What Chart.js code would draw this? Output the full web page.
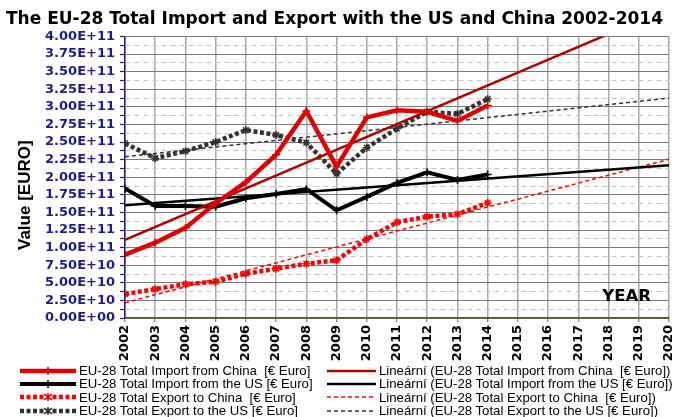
<!DOCTYPE html>
<html>
<head>
<meta charset="utf-8">
<script src="https://cdn.jsdelivr.net/npm/chart.js@4/dist/chart.umd.min.js"></script>
<style>
  html, body { margin: 0; padding: 0; background: #fff; }
  #wrap { position: relative; width: 679px; height: 417px; overflow: hidden; }
  #c { position: absolute; left: 0; top: 0; }
  #legend { position: absolute; left: 0; top: 364px; width: 679px; font-family: "Liberation Sans", Arial, sans-serif; font-size: 13.2px; color: #000; }
  .row { position: relative; height: 13.4px; line-height: 13.4px; white-space: pre; }
  .item { position: absolute; top: 0; display: flex; align-items: center; height: 13.4px; }
  .item svg { flex: none; margin-right: 3px; }
</style>
</head>
<body>
<div id="wrap">
  <canvas id="c" width="679" height="417"></canvas>
  <div id="legend"></div>
</div>
<script>
// ---- data ----
const years = [2002, 2003, 2004, 2005, 2006, 2007, 2008, 2009, 2010, 2011, 2012, 2013, 2014];
const importChina = [0.90e11, 1.07e11, 1.28e11, 1.63e11, 1.93e11, 2.32e11, 2.94e11, 2.15e11, 2.85e11, 2.95e11, 2.93e11, 2.80e11, 3.02e11];
const importUS    = [1.84e11, 1.59e11, 1.59e11, 1.58e11, 1.70e11, 1.76e11, 1.83e11, 1.53e11, 1.72e11, 1.92e11, 2.07e11, 1.96e11, 2.04e11];
const exportChina = [0.34e11, 0.41e11, 0.48e11, 0.515e11, 0.63e11, 0.70e11, 0.77e11, 0.82e11, 1.12e11, 1.36e11, 1.44e11, 1.475e11, 1.635e11];
const exportUS    = [2.48e11, 2.27e11, 2.37e11, 2.50e11, 2.67e11, 2.60e11, 2.49e11, 2.05e11, 2.42e11, 2.69e11, 2.93e11, 2.90e11, 3.11e11];

// linear trend lines (end points)
const trendYears = [2002, 2020];
const trendImportChina = [1.11e11, 4.40e11];
const trendImportUS    = [1.60e11, 2.17e11];
const trendExportChina = [0.217e11, 2.255e11];
const trendExportUS    = [2.29e11, 3.125e11];

const seriesNames = [
  "EU-28 Total Import from China  [\u20AC Euro]",
  "EU-28 Total Import from the US [\u20AC Euro]",
  "EU-28 Total Export to China  [\u20AC Euro]",
  "EU-28 Total Export to the US [\u20AC Euro]"
];
const trendNames = seriesNames.map(n => "Line\u00E1rn\u00ED (" + n + ")");

const yMin = 0, yMax = 4.0e11, yStep = 0.125e11;
const xMin = 2002, xMax = 2020;

const chartTitle = "The EU-28 Total Import and Export with the US and China 2002-2014";
const yTitle = "Value [EURO]";
const xNote = "YEAR";

// ---- helpers ----
const pts = (xs, ys) => xs.map((x, i) => ({ x: x, y: ys[i] }));
function sci(v) {
  if (Math.abs(v) < 1) return "0.00E+00";
  let e = Math.floor(Math.log10(Math.abs(v)));
  let m = v / Math.pow(10, e);
  if (Math.round(m * 100) / 100 >= 10) { m /= 10; e += 1; }
  return m.toFixed(2) + "E" + (e >= 0 ? "+" : "-") + String(Math.abs(e)).padStart(2, "0");
}
const isMajor = v => Math.round(v / yStep) % 2 === 0;

const NAVY = "#1c1c8a";

const datasets = [
  { label: seriesNames[0], data: pts(years, importChina), borderColor: "#e00000", backgroundColor: "#e00000",
    borderWidth: 4.5, pointStyle: "cross", pointRadius: 4, pointBorderWidth: 1.5, legendCol: 0, legendRow: 0 },
  { label: trendNames[0], data: pts(trendYears, trendImportChina), borderColor: "#b00000",
    borderWidth: 2.5, pointRadius: 0, legendCol: 1, legendRow: 0 },
  { label: seriesNames[1], data: pts(years, importUS), borderColor: "#000000", backgroundColor: "#000000",
    borderWidth: 4, pointStyle: "cross", pointRadius: 4, pointBorderWidth: 1.5, legendCol: 0, legendRow: 1 },
  { label: trendNames[1], data: pts(trendYears, trendImportUS), borderColor: "#000000",
    borderWidth: 2.5, pointRadius: 0, legendCol: 1, legendRow: 1 },
  { label: seriesNames[2], data: pts(years, exportChina), borderColor: "#ff0000", backgroundColor: "#ff0000",
    borderWidth: 4.5, borderDash: [4, 2.5], pointStyle: "star", pointRadius: 4, pointBorderWidth: 1.5, legendCol: 0, legendRow: 2 },
  { label: trendNames[2], data: pts(trendYears, trendExportChina), borderColor: "#ff0000",
    borderWidth: 1.5, borderDash: [4, 3], pointRadius: 0, legendCol: 1, legendRow: 2 },
  { label: seriesNames[3], data: pts(years, exportUS), borderColor: "#333333", backgroundColor: "#333333",
    borderWidth: 4.5, borderDash: [4, 2.5], pointStyle: "star", pointRadius: 4, pointBorderWidth: 1.5, legendCol: 0, legendRow: 3 },
  { label: trendNames[3], data: pts(trendYears, trendExportUS), borderColor: "#333333",
    borderWidth: 1.5, borderDash: [4, 3], pointRadius: 0, legendCol: 1, legendRow: 3 }
];
datasets.forEach(d => { d.fill = false; d.tension = 0; d.pointBorderColor = d.borderColor; });

const textPlugin = {
  id: "extraText",
  afterDraw(chart) {
    const { ctx, chartArea } = chart;
    ctx.save();
    ctx.fillStyle = "#000";
    ctx.font = "bold 16.5px 'DejaVu Sans', Verdana, sans-serif";
    ctx.textAlign = "right";
    ctx.textBaseline = "middle";
    ctx.fillText(xNote, chartArea.right - 18, chartArea.bottom - 21);
    ctx.font = "bold 17px 'Liberation Sans', Arial, sans-serif";
    ctx.translate(chartArea.left - 100, (chartArea.top + chartArea.bottom) / 2 + 18);
    ctx.rotate(-Math.PI / 2);
    ctx.textAlign = "center";
    ctx.fillText(yTitle, 0, 0);
    ctx.restore();
  }
};

const chart = new Chart(document.getElementById("c"), {
  type: "line",
  data: { datasets: datasets },
  options: {
    responsive: false,
    animation: false,
    devicePixelRatio: 1,
    layout: { padding: { left: 0, right: 10, top: 0, bottom: 0 } },
    plugins: {
      legend: { display: false },
      tooltip: { enabled: false },
      title: {
        display: true, text: chartTitle, color: "#000",
        font: { family: "'DejaVu Sans', Verdana, sans-serif", size: 17, weight: "bold", lineHeight: 1.2 },
        padding: { top: 9, bottom: 7 }
      }
    },
    scales: {
      x: {
        type: "linear", min: xMin, max: xMax,
        afterFit: s => { s.height = 99; s.paddingLeft = 0; s.paddingRight = 0; },
        ticks: {
          stepSize: 1, autoSkip: false, maxRotation: 90, minRotation: 90, padding: 3,
          color: "#000", font: { family: "'DejaVu Sans', Verdana, sans-serif", size: 13, weight: "bold" },
          callback: v => String(v)
        },
        grid: { color: "#a8a8a8", lineWidth: 1.5, tickLength: 4, tickColor: "#5a6a30", tickWidth: 1 },
        border: { color: "#4d5a28", width: 1.5 }
      },
      y: {
        type: "linear", min: yMin, max: yMax,
        afterFit: s => { s.width = 125; },
        ticks: {
          stepSize: yStep, autoSkip: false, padding: 5, color: NAVY,
          font: { family: "'DejaVu Sans', Verdana, sans-serif", size: 13, weight: "bold" },
          callback: v => isMajor(v) ? sci(v) : ""
        },
        grid: {
          color: c => (c.tick && !isMajor(c.tick.value)) ? "#c4c4c4" : "#7a7a7a",
          lineWidth: 1, tickLength: 5, tickColor: NAVY, tickWidth: 1.2
        },
        border: {
          color: NAVY, width: 1.5,
          dash: c => (c.tick && !isMajor(c.tick.value)) ? [5, 4] : []
        }
      }
    }
  },
  plugins: [textPlugin]
});

// ---- HTML legend built from the datasets ----
function sampleSVG(d, w) {
  const ns = "http://www.w3.org/2000/svg";
  const svg = document.createElementNS(ns, "svg");
  svg.setAttribute("width", w); svg.setAttribute("height", 12);
  const ln = document.createElementNS(ns, "line");
  ln.setAttribute("x1", 0); ln.setAttribute("x2", w); ln.setAttribute("y1", 6); ln.setAttribute("y2", 6);
  ln.setAttribute("stroke", d.borderColor); ln.setAttribute("stroke-width", d.borderWidth);
  if (d.borderDash) ln.setAttribute("stroke-dasharray", d.borderDash.join(" "));
  svg.appendChild(ln);
  if (d.pointRadius) {
    const cx = w / 2, r = d.pointRadius;
    const segs = d.pointStyle === "star"
      ? [[cx, 6 - r, cx, 6 + r], [cx - r, 6 - r * 0.7, cx + r, 6 + r * 0.7], [cx - r, 6 + r * 0.7, cx + r, 6 - r * 0.7]]
      : [[cx, 6 - r, cx, 6 + r]];
    segs.forEach(s => {
      const m = document.createElementNS(ns, "line");
      m.setAttribute("x1", s[0]); m.setAttribute("y1", s[1]); m.setAttribute("x2", s[2]); m.setAttribute("y2", s[3]);
      m.setAttribute("stroke", d.borderColor); m.setAttribute("stroke-width", 1.5);
      svg.appendChild(m);
    });
  }
  return svg;
}
const legend = document.getElementById("legend");
const colLeft = [20, 327], colSample = [56, 49];
for (let r = 0; r < 4; r++) {
  const row = document.createElement("div");
  row.className = "row";
  datasets.filter(d => d.legendRow === r).forEach(d => {
    const it = document.createElement("div");
    it.className = "item";
    it.style.left = colLeft[d.legendCol] + "px";
    it.appendChild(sampleSVG(d, colSample[d.legendCol]));
    const t = document.createElement("span");
    t.textContent = d.label;
    it.appendChild(t);
    row.appendChild(it);
  });
  legend.appendChild(row);
}
</script>
</body>
</html>
